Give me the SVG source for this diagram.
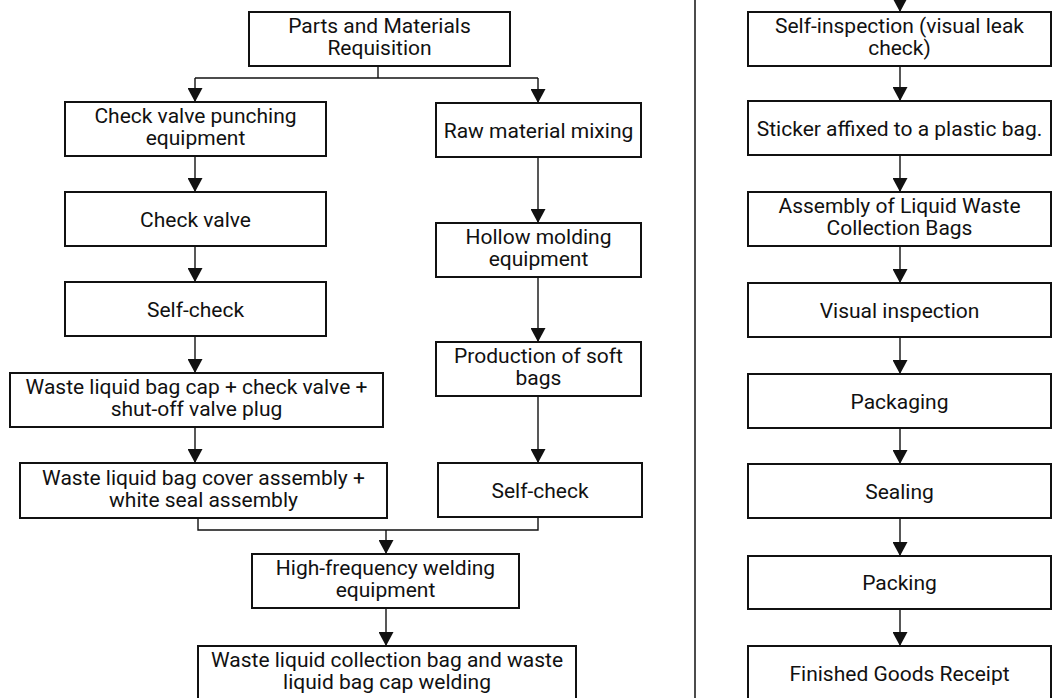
<svg xmlns="http://www.w3.org/2000/svg" width="1057" height="698" viewBox="0 0 1057 698">
  <style>
    .box rect { fill: #ffffff; stroke: #111111; stroke-width: 2; }
    .box text { font-family: Roboto, "Liberation Sans", sans-serif; font-size: 21px; fill: #111111; text-anchor: middle; }
    .link { fill: none; stroke: #111111; stroke-width: 1.4; }
    .divider { stroke: #111111; stroke-width: 1.5; }
  </style>
  <defs>
    <marker id="arrow" viewBox="0 0 14 15" refX="14" refY="7.5" markerWidth="14" markerHeight="15" orient="auto" markerUnits="userSpaceOnUse">
      <path d="M0,0 L14,7.5 L0,15 Z" fill="#111111"/>
    </marker>
  </defs>
  <rect width="1057" height="698" fill="#ffffff"/>

  <!-- column separator -->
  <line class="divider" x1="695" y1="0" x2="695" y2="698"/>

  <!-- connectors -->
  <g id="connectors">
    <polyline class="link" points="378,66 378,78"/>
    <polyline class="link" points="195,78 538,78"/>
    <line class="link" x1="195" y1="78" x2="195" y2="102" marker-end="url(#arrow)"/>
    <line class="link" x1="538" y1="78" x2="538" y2="103" marker-end="url(#arrow)"/>
    <!-- left branch -->
    <line class="link" x1="195" y1="156" x2="195" y2="192" marker-end="url(#arrow)"/>
    <line class="link" x1="195" y1="246" x2="195" y2="282" marker-end="url(#arrow)"/>
    <line class="link" x1="195" y1="336" x2="195" y2="373" marker-end="url(#arrow)"/>
    <line class="link" x1="195" y1="427" x2="195" y2="463" marker-end="url(#arrow)"/>
    <!-- middle branch -->
    <line class="link" x1="538" y1="157" x2="538" y2="223" marker-end="url(#arrow)"/>
    <line class="link" x1="538" y1="277" x2="538" y2="342" marker-end="url(#arrow)"/>
    <line class="link" x1="538" y1="396" x2="538" y2="463" marker-end="url(#arrow)"/>
    <!-- merge into welding -->
    <polyline class="link" points="198,518 198,530 538,530 538,517"/>
    <line class="link" x1="386" y1="530" x2="386" y2="554" marker-end="url(#arrow)"/>
    <line class="link" x1="386" y1="608" x2="386" y2="646" marker-end="url(#arrow)"/>
    <!-- right column -->
    <line class="link" x1="900" y1="-4" x2="900" y2="12" marker-end="url(#arrow)"/>
    <line class="link" x1="900" y1="66" x2="900" y2="101" marker-end="url(#arrow)"/>
    <line class="link" x1="900" y1="155" x2="900" y2="192" marker-end="url(#arrow)"/>
    <line class="link" x1="900" y1="246" x2="900" y2="283" marker-end="url(#arrow)"/>
    <line class="link" x1="900" y1="337" x2="900" y2="374" marker-end="url(#arrow)"/>
    <line class="link" x1="900" y1="428" x2="900" y2="464" marker-end="url(#arrow)"/>
    <line class="link" x1="900" y1="518" x2="900" y2="556" marker-end="url(#arrow)"/>
    <line class="link" x1="900" y1="609" x2="900" y2="646" marker-end="url(#arrow)"/>
  </g>

  <!-- left and middle columns -->
  <g id="n-requisition" class="box">
    <rect x="249" y="12" width="261" height="54"/>
    <text x="379.5" y="33">Parts and Materials</text>
    <text x="379.5" y="55">Requisition</text>
  </g>
  <g id="n-punching" class="box">
    <rect x="65" y="102" width="261" height="54"/>
    <text x="195.5" y="123">Check valve punching</text>
    <text x="195.5" y="145">equipment</text>
  </g>
  <g id="n-checkvalve" class="box">
    <rect x="65" y="192" width="261" height="54"/>
    <text x="195.5" y="226.5">Check valve</text>
  </g>
  <g id="n-selfcheck-left" class="box">
    <rect x="65" y="282" width="261" height="54"/>
    <text x="195.5" y="316.5">Self-check</text>
  </g>
  <g id="n-cap" class="box">
    <rect x="10" y="373" width="373" height="54"/>
    <text x="196.5" y="394">Waste liquid bag cap + check valve +</text>
    <text x="196.5" y="416">shut-off valve plug</text>
  </g>
  <g id="n-cover" class="box">
    <rect x="20" y="463" width="367" height="55"/>
    <text x="203.5" y="484.5">Waste liquid bag cover assembly +</text>
    <text x="203.5" y="506.5">white seal assembly</text>
  </g>
  <g id="n-mixing" class="box">
    <rect x="436" y="103" width="205" height="54"/>
    <text x="538.5" y="137.5">Raw material mixing</text>
  </g>
  <g id="n-hollow" class="box">
    <rect x="436" y="223" width="205" height="54"/>
    <text x="538.5" y="244">Hollow molding</text>
    <text x="538.5" y="266">equipment</text>
  </g>
  <g id="n-softbags" class="box">
    <rect x="436" y="342" width="205" height="54"/>
    <text x="538.5" y="363">Production of soft</text>
    <text x="538.5" y="385">bags</text>
  </g>
  <g id="n-selfcheck-mid" class="box">
    <rect x="438" y="463" width="204" height="54"/>
    <text x="540" y="497.5">Self-check</text>
  </g>
  <g id="n-hf-welding" class="box">
    <rect x="252" y="554" width="267" height="54"/>
    <text x="385.5" y="575">High-frequency welding</text>
    <text x="385.5" y="597">equipment</text>
  </g>
  <g id="n-cap-welding" class="box">
    <rect x="198" y="646" width="378" height="56"/>
    <text x="387" y="667">Waste liquid collection bag and waste</text>
    <text x="387" y="689">liquid bag cap welding</text>
  </g>

  <!-- right column -->
  <g id="n-leakcheck" class="box">
    <rect x="748" y="12" width="303" height="54"/>
    <text x="899.5" y="33">Self-inspection (visual leak</text>
    <text x="899.5" y="55">check)</text>
  </g>
  <g id="n-sticker" class="box">
    <rect x="748" y="101" width="303" height="54"/>
    <text x="899.5" y="135.5">Sticker affixed to a plastic bag.</text>
  </g>
  <g id="n-assembly" class="box">
    <rect x="748" y="192" width="303" height="54"/>
    <text x="899.5" y="213">Assembly of Liquid Waste</text>
    <text x="899.5" y="235">Collection Bags</text>
  </g>
  <g id="n-visual" class="box">
    <rect x="748" y="283" width="303" height="54"/>
    <text x="899.5" y="317.5">Visual inspection</text>
  </g>
  <g id="n-packaging" class="box">
    <rect x="748" y="374" width="303" height="54"/>
    <text x="899.5" y="408.5">Packaging</text>
  </g>
  <g id="n-sealing" class="box">
    <rect x="748" y="464" width="303" height="54"/>
    <text x="899.5" y="498.5">Sealing</text>
  </g>
  <g id="n-packing" class="box">
    <rect x="748" y="556" width="303" height="53"/>
    <text x="899.5" y="590">Packing</text>
  </g>
  <g id="n-receipt" class="box">
    <rect x="748" y="646" width="303" height="56"/>
    <text x="899.5" y="681">Finished Goods Receipt</text>
  </g>
</svg>
